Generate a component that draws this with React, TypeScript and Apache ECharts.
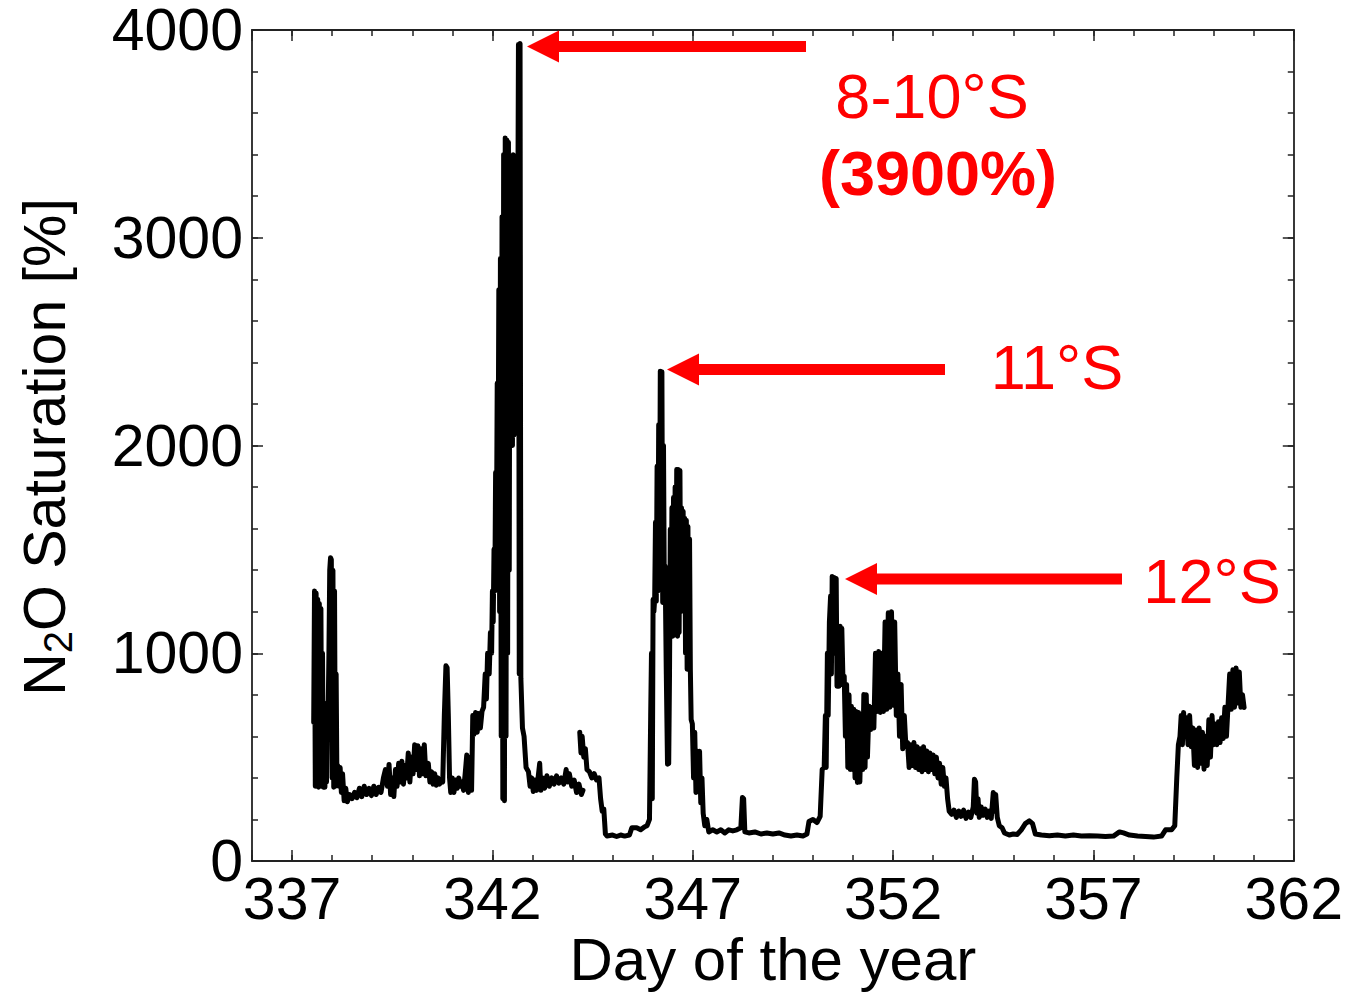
import React, { useEffect, useRef } from "react";
import * as echarts from "echarts";

const FONT = '"Liberation Sans", Arial, Helvetica, sans-serif';

// x-axis major tick labels (days)
const xMajorDays = [337, 342, 347, 352, 357, 362];
const yMajorLabels = ["0", "1000", "2000", "3000", "4000"];

// N2O saturation [%] vs day of year, first leg
const legA: [number, number][] = [
  [337.54, 667], [337.56, 1300], [337.58, 360], [337.6, 1290], [337.62, 365], [337.64, 1260],
  [337.66, 355], [337.68, 1240], [337.7, 360], [337.72, 1215], [337.74, 360], [337.76, 1000],
  [337.78, 355], [337.8, 760], [337.82, 355], [337.84, 740], [337.86, 380], [337.88, 720],
  [337.9, 700], [337.92, 1000], [337.94, 1400], [337.96, 1460], [337.98, 1450], [338.0, 400],
  [338.02, 1400], [338.04, 355], [338.06, 1300], [338.08, 360], [338.1, 900], [338.12, 380],
  [338.14, 460], [338.17, 360], [338.2, 450], [338.23, 330], [338.26, 420], [338.3, 290],
  [338.34, 350], [338.38, 285], [338.44, 320], [338.5, 300], [338.56, 330], [338.62, 305],
  [338.68, 350], [338.74, 310], [338.8, 360], [338.86, 320], [338.92, 350], [338.98, 315],
  [339.04, 360], [339.1, 320], [339.16, 355], [339.22, 330], [339.28, 400], [339.33, 440],
  [339.38, 360], [339.42, 465], [339.46, 320], [339.5, 400], [339.54, 310], [339.58, 440],
  [339.62, 360], [339.66, 470], [339.7, 380], [339.74, 480], [339.78, 370], [339.82, 460],
  [339.86, 400], [339.9, 520], [339.94, 380], [339.98, 500], [340.02, 420], [340.06, 560],
  [340.1, 440], [340.14, 555], [340.18, 410], [340.22, 540], [340.26, 420], [340.3, 560],
  [340.34, 410], [340.4, 470], [340.44, 380], [340.48, 430], [340.52, 370], [340.56, 420],
  [340.6, 365], [340.64, 400], [340.68, 370], [340.72, 390], [340.76, 380], [340.8, 700],
  [340.84, 940], [340.87, 930], [340.9, 700], [340.93, 400], [340.96, 330], [341.0, 400],
  [341.04, 330], [341.08, 390], [341.12, 350], [341.16, 400], [341.2, 360], [341.24, 380],
  [341.28, 340], [341.32, 420], [341.36, 510], [341.4, 330], [341.44, 500], [341.48, 340],
  [341.51, 700], [341.54, 610], [341.58, 715], [341.62, 620], [341.66, 710], [341.7, 640],
  [341.74, 720], [341.78, 740], [341.82, 900], [341.85, 780], [341.88, 1000], [341.92, 900],
  [341.95, 1100], [341.98, 1000], [342.0, 1300], [342.02, 1150], [342.04, 1500], [342.06, 1300],
  [342.08, 1870], [342.1, 1500], [342.12, 2300], [342.14, 1700], [342.16, 2750], [342.18, 1200],
  [342.2, 2900], [342.22, 600], [342.24, 3100], [342.26, 300], [342.28, 3400], [342.3, 290],
  [342.32, 3480], [342.34, 600], [342.36, 3470], [342.38, 1000], [342.4, 3460], [342.42, 1400],
  [342.44, 3300], [342.46, 2100], [342.48, 3350], [342.5, 2000], [342.52, 3400], [342.54, 2050],
  [342.56, 3380], [342.58, 2300], [342.6, 3000], [342.62, 2350], [342.65, 3930], [342.67, 900],
  [342.69, 3935], [342.71, 880], [342.75, 640], [342.79, 600], [342.84, 450], [342.9, 430],
  [342.94, 360], [342.98, 400], [343.02, 335], [343.06, 390], [343.1, 340], [343.14, 400],
  [343.18, 470], [343.21, 340], [343.25, 400], [343.3, 350], [343.36, 410], [343.42, 360],
  [343.48, 400], [343.54, 370], [343.6, 410], [343.66, 375], [343.72, 400], [343.78, 370],
  [343.84, 440], [343.88, 380], [343.92, 420], [343.98, 360], [344.04, 390], [344.1, 330],
  [344.16, 370], [344.22, 320], [344.26, 340],
];

// second leg (after the data gap)
const legB: [number, number][] = [
  [344.18, 620], [344.21, 520], [344.24, 600], [344.28, 500], [344.32, 540], [344.36, 440],
  [344.42, 430], [344.48, 400], [344.54, 420], [344.6, 390], [344.66, 400], [344.7, 300],
  [344.74, 240], [344.78, 250], [344.82, 130], [344.86, 120], [345.0, 125], [345.1, 118],
  [345.2, 125], [345.3, 120], [345.42, 125], [345.48, 160], [345.6, 160], [345.7, 150],
  [345.8, 165], [345.86, 170], [345.92, 200], [345.95, 700], [345.97, 1000], [345.99, 300],
  [346.01, 1259], [346.03, 1200], [346.05, 1260], [346.07, 1630], [346.09, 1250], [346.11, 1900],
  [346.13, 1300], [346.15, 2100], [346.17, 1400], [346.19, 2358], [346.21, 1500], [346.23, 2355],
  [346.25, 1244], [346.27, 2000], [346.29, 1300], [346.31, 1420], [346.34, 900], [346.37, 466],
  [346.4, 470], [346.42, 900], [346.44, 1597], [346.46, 1100], [346.48, 1700], [346.5, 1082],
  [346.52, 1750], [346.54, 1090], [346.56, 1800], [346.58, 1100], [346.6, 1885], [346.62, 1082],
  [346.64, 1885], [346.66, 1100], [346.68, 1880], [346.7, 1200], [346.72, 1700], [346.74, 1225],
  [346.76, 1683], [346.78, 1230], [346.8, 1650], [346.82, 1000], [346.84, 1640], [346.86, 923],
  [346.88, 1610], [346.9, 930], [346.92, 1550], [346.94, 923], [346.96, 681], [346.99, 660],
  [347.02, 400], [347.05, 620], [347.08, 330], [347.11, 530], [347.14, 350], [347.17, 528],
  [347.2, 280], [347.23, 400], [347.26, 230], [347.3, 170], [347.35, 200], [347.4, 140],
  [347.5, 150], [347.6, 140], [347.7, 150], [347.8, 135], [347.9, 150], [348.0, 145],
  [348.1, 150], [348.2, 160], [348.24, 306], [348.27, 300], [348.3, 140], [348.4, 135],
  [348.55, 140], [348.7, 130], [348.85, 135], [349.0, 130], [349.15, 135], [349.3, 125],
  [349.45, 120], [349.6, 125], [349.75, 120], [349.85, 130], [349.9, 190], [350.0, 200],
  [350.1, 185], [350.18, 215], [350.23, 440], [350.28, 450], [350.31, 700], [350.33, 450],
  [350.36, 1000], [350.38, 700], [350.41, 1150], [350.44, 1275], [350.46, 900], [350.48, 1370],
  [350.5, 1000], [350.53, 1365], [350.55, 1000], [350.58, 1360], [350.6, 841], [350.63, 1130],
  [350.65, 841], [350.68, 1130], [350.7, 850], [350.72, 1120], [350.75, 860], [350.78, 890],
  [350.81, 600], [350.84, 850], [350.87, 450], [350.9, 800], [350.93, 441], [350.96, 745],
  [350.99, 440], [351.02, 730], [351.05, 400], [351.08, 720], [351.11, 378], [351.14, 715],
  [351.17, 380], [351.21, 700], [351.24, 440], [351.27, 802], [351.3, 450], [351.33, 800],
  [351.36, 500], [351.4, 745], [351.44, 633], [351.48, 740], [351.52, 640], [351.56, 1000],
  [351.6, 720], [351.64, 1008], [351.68, 715], [351.72, 1000], [351.76, 720], [351.8, 1150],
  [351.84, 730], [351.88, 1195], [351.92, 740], [351.96, 1200], [352.0, 750], [352.04, 1150],
  [352.08, 700], [352.12, 900], [352.16, 600], [352.2, 850], [352.24, 540], [352.28, 700],
  [352.32, 550], [352.36, 570], [352.4, 450], [352.44, 560], [352.48, 460], [352.52, 570],
  [352.56, 450], [352.6, 550], [352.64, 440], [352.68, 540], [352.72, 430], [352.76, 550],
  [352.8, 440], [352.84, 530], [352.88, 430], [352.92, 520], [352.96, 440], [353.0, 510],
  [353.04, 420], [353.08, 500], [353.12, 400], [353.16, 470], [353.2, 370], [353.24, 450],
  [353.28, 360], [353.32, 400], [353.36, 300], [353.4, 240], [353.46, 225], [353.52, 245],
  [353.58, 210], [353.64, 240], [353.7, 215], [353.76, 245], [353.82, 205], [353.88, 235],
  [353.94, 210], [354.0, 260], [354.03, 394], [354.06, 380], [354.09, 230], [354.12, 300],
  [354.15, 210], [354.2, 260], [354.25, 220], [354.3, 250], [354.35, 210], [354.4, 240],
  [354.45, 205], [354.5, 330], [354.53, 240], [354.56, 320], [354.6, 210], [354.65, 170],
  [354.72, 160], [354.78, 135], [354.9, 125], [355.0, 130], [355.1, 128], [355.2, 150],
  [355.3, 180], [355.4, 193], [355.48, 180], [355.55, 130], [355.7, 125], [355.9, 122],
  [356.1, 125], [356.3, 120], [356.5, 125], [356.7, 120], [356.9, 122], [357.1, 120],
  [357.3, 118], [357.5, 120], [357.65, 140], [357.75, 135], [357.9, 125], [358.1, 120],
  [358.3, 118], [358.5, 115], [358.7, 120], [358.8, 150], [358.95, 150], [359.03, 170],
  [359.08, 400], [359.12, 560], [359.16, 600], [359.19, 700], [359.22, 560], [359.25, 715],
  [359.28, 600], [359.32, 690], [359.36, 560], [359.4, 700], [359.44, 550], [359.48, 640],
  [359.52, 460], [359.56, 630], [359.6, 450], [359.64, 640], [359.68, 470], [359.72, 620],
  [359.76, 442], [359.8, 600], [359.84, 460], [359.88, 680], [359.92, 500], [359.96, 700],
  [360.0, 560], [360.04, 660], [360.08, 560], [360.12, 670], [360.16, 570], [360.2, 690],
  [360.24, 590], [360.28, 740], [360.32, 600], [360.36, 750], [360.4, 900], [360.44, 730],
  [360.48, 920], [360.52, 740], [360.56, 929], [360.6, 760], [360.64, 910], [360.68, 740],
  [360.72, 800], [360.76, 739],
];

// annotation labels
const annoLabels = ["8-10°S", "(3900%)", "11°S", "12°S"];

const X_MIN = 336;
const X_MAX = 362;
const RED = "#ff0000";
const AXC = "#222";
const LABEL_SIZE = 59;
const RED_SIZE = 63;

function arrow(tipX: number, tipY: number, tailX: number) {
  const headLen = 32;
  const headHalf = 16;
  const shaftHalf = 5.5;
  const bx = tipX + headLen;
  return {
    type: "polygon",
    shape: {
      points: [
        [tipX, tipY],
        [bx, tipY - headHalf],
        [bx, tipY - shaftHalf],
        [tailX, tipY - shaftHalf],
        [tailX, tipY + shaftHalf],
        [bx, tipY + shaftHalf],
        [bx, tipY + headHalf],
      ],
    },
    style: { fill: RED },
    z: 100,
  };
}

function redText(text: string, x: number, y: number, bold = false) {
  return {
    type: "text",
    x,
    y,
    style: {
      text,
      fill: RED,
      font: `${bold ? "bold " : ""}${RED_SIZE}px ${FONT}`,
      align: "center",
      verticalAlign: "middle",
    },
    z: 100,
  };
}

export default function App() {
  const ref = useRef<HTMLDivElement>(null);

  useEffect(() => {
    if (!ref.current) return;
    const chart = echarts.init(ref.current, undefined, { renderer: "svg" });

    const seriesData: any[] = [...legA, [344.27, "-"], ...legB];

    const minorTick = { show: true, inside: true, length: 6, lineStyle: { color: AXC, width: 1.5 } };
    const majorTick = { show: true, inside: true, length: 11, lineStyle: { color: AXC, width: 1.5 } };
    const axLine = { show: true, onZero: false, lineStyle: { color: AXC, width: 1.8 } };
    const noLine = { show: false, onZero: false };
    const labelStyle = { color: "#000", fontSize: LABEL_SIZE, fontFamily: FONT, lineHeight: 50 };

    // helper axis measured backwards from X_MAX, so its ticks (every 5 from 0) fall on 362, 357, ... 337
    const majorX = (position: string, withLabels: boolean) => ({
      type: "value",
      min: 0,
      max: X_MAX - X_MIN,
      interval: 5,
      inverse: true,
      position,
      axisLine: noLine,
      axisTick: majorTick,
      axisLabel: withLabels
        ? {
            ...labelStyle,
            margin: 13,
            formatter: (u: number) => {
              const d = X_MAX - u;
              return xMajorDays.indexOf(d) >= 0 ? String(d) : "";
            },
          }
        : { show: false },
      splitLine: { show: false },
    });

    const option: any = {
      animation: false,
      backgroundColor: "#fff",
      grid: { left: 252, right: 51, top: 30, bottom: 132, containLabel: false },
      xAxis: [
        {
          type: "value", min: X_MIN, max: X_MAX, interval: 1, position: "bottom",
          axisLine: axLine, axisTick: minorTick, axisLabel: { show: false }, splitLine: { show: false },
          name: "Day of the year", nameLocation: "middle", nameGap: 72,
          nameTextStyle: { color: "#000", fontSize: 60, fontFamily: FONT, lineHeight: 52 },
        },
        majorX("bottom", true),
        {
          type: "value", min: X_MIN, max: X_MAX, interval: 1, position: "top",
          axisLine: axLine, axisTick: minorTick, axisLabel: { show: false }, splitLine: { show: false },
        },
        majorX("top", false),
      ],
      yAxis: [
        {
          type: "value", min: 0, max: 4000, interval: 200, position: "left",
          axisLine: axLine, axisTick: minorTick, axisLabel: { show: false }, splitLine: { show: false },
        },
        {
          type: "value", min: 0, max: 4000, interval: 1000, position: "left",
          axisLine: noLine, axisTick: majorTick,
          axisLabel: {
            ...labelStyle, margin: 9,
            formatter: (v: number) => yMajorLabels[Math.round(v / 1000)] ?? "",
          },
          splitLine: { show: false },
        },
        {
          type: "value", min: 0, max: 4000, interval: 200, position: "right",
          axisLine: axLine, axisTick: minorTick, axisLabel: { show: false }, splitLine: { show: false },
        },
        {
          type: "value", min: 0, max: 4000, interval: 1000, position: "right",
          axisLine: noLine, axisTick: majorTick, axisLabel: { show: false }, splitLine: { show: false },
        },
      ],
      series: [
        {
          type: "line",
          xAxisIndex: 0,
          yAxisIndex: 0,
          data: seriesData,
          showSymbol: false,
          symbol: "none",
          connectNulls: false,
          lineStyle: { color: "#000", width: 5, join: "round", cap: "round" },
          z: 5,
        },
      ],
      graphic: [
        {
          type: "text",
          x: 45,
          y: 447,
          rotation: Math.PI / 2,
          style: {
            text: "{n|N}{s|2}{n|O Saturation [%]}",
            align: "center",
            verticalAlign: "middle",
            fill: "#000",
            rich: {
              n: { fontSize: 59, fontFamily: FONT, fill: "#000", lineHeight: 66, verticalAlign: "middle" },
              s: { fontSize: 40, fontFamily: FONT, fill: "#000", lineHeight: 36, verticalAlign: "bottom" },
            },
          },
        },
        arrow(527, 46.5, 806),
        arrow(667, 369.5, 945),
        arrow(845, 579, 1122),
        redText(annoLabels[0], 932, 96),
        redText(annoLabels[1], 938, 173, true),
        redText(annoLabels[2], 1057, 367),
        redText(annoLabels[3], 1212, 581),
      ],
    };

    chart.setOption(option);
    return () => chart.dispose();
  }, []);

  return (
    <div
      ref={ref}
      style={{ position: "fixed", left: 0, top: 0, width: 1346, height: 994, background: "#fff" }}
    />
  );
}
